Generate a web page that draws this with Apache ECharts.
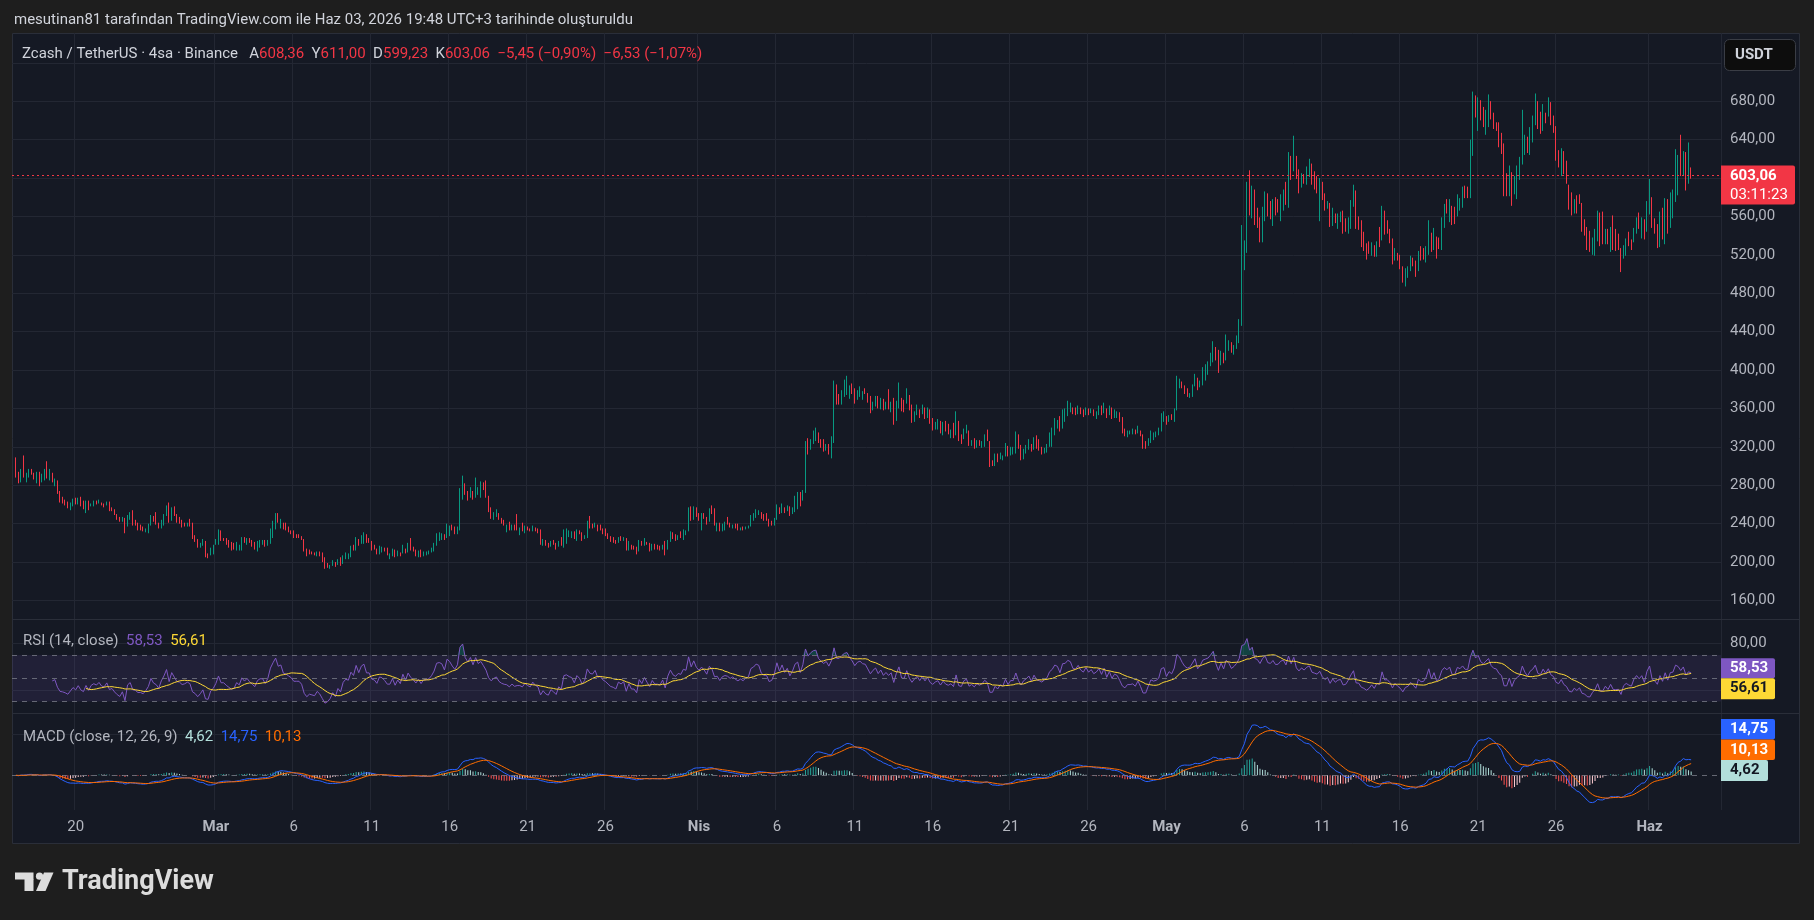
<!DOCTYPE html>
<html><head><meta charset="utf-8">
<script src="https://cdn.jsdelivr.net/npm/echarts@6/dist/echarts.min.js"></script>
<style>html,body{margin:0;padding:0;background:#1e1e1e;}#c{width:1814px;height:920px;}</style>
</head><body><div id="c"></div>
<script>
// ---- time axis (4h candles, UTC+3 clock) ----
const firstSlot = Date.UTC(2026, 1, 16, 3);   // first (empty) slot: Feb 16 03:00
const leadSlots = 1;                            // partially hidden slot at the left edge
const futureSlots = 11;                         // empty right margin
const xTickDates = ['02-20','03-01','03-06','03-11','03-16','03-21','03-26','04-01','04-06','04-11','04-16','04-21','04-26','05-01','05-06','05-11','05-16','05-21','05-26','06-01'];
const xTickTexts = ['20','Mar','6','11','16','21','26','Nis','6','11','16','21','26','May','6','11','16','21','26','Haz'];

// ---- price axis ----
const priceTicks  = [160,200,240,280,320,360,400,440,480,520,560,600,640,680,720];
const priceLabels = [160,200,240,280,320,360,400,440,480,520,560,600,640,680];
const rsiTicks = [40, 80];
const rsiLabels = [80];
const macdTicks = [40];

// ---- candles [open, close, low, high], Feb 16 07:00 -> Jun 03 19:00 ----
const candlesFeb16 = [
[307,289,288,309],[293,283,282,294],[284,296,283,297],[309,289,288,311],[284,292,283,293],[289,296,288,297],[296,292,291,297],[292,287,286,293],[283,293,282,294],[293,280,279,294],
[284,291,283,292],[286,296,285,297],[303,288,287,305],[287,295,285,297],[292,284,283,293],[280,286,279,287],[284,272,271,285],[273,263,262,274],[267,262,261,268],[264,260,259,265],
[262,257,256,263],[255,261,254,262],[259,265,258,266],[266,261,260,267],[261,266,260,267],[267,259,258,268],[263,256,255,264],[252,263,251,264],[263,255,254,264],[258,261,258,261],
[258,263,258,264],[263,261,260,264],[261,264,261,265],[261,259,259,262],[260,258,257,261],[259,262,259,263],[262,253,253,263],[256,254,253,257],[254,249,249,255],[250,245,244,250],
[246,242,242,247],[242,246,242,247],[245,231,230,246],[238,248,237,249],[245,251,244,252],[253,239,238,254],[243,238,238,244],[240,234,233,241],[238,234,233,239],[236,232,232,237],
[231,235,231,235],[231,239,230,240],[239,248,238,249],[247,242,242,248],[251,240,239,252],[240,235,235,241],[236,243,235,244],[239,249,238,250],[249,258,248,259],[261,242,241,262],
[244,256,243,257],[257,249,248,258],[249,242,241,250],[246,241,240,247],[243,237,236,244],[241,238,237,241],[237,240,237,241],[244,238,237,245],[240,225,224,241],[227,222,221,228],
[223,216,215,224],[216,219,215,220],[218,223,217,224],[221,206,205,222],[208,205,204,209],[208,214,207,215],[209,217,208,218],[218,223,218,224],[219,233,218,234],[232,223,222,233],
[225,223,222,225],[224,219,218,225],[222,216,215,223],[220,213,212,221],[219,214,213,220],[213,220,212,221],[213,217,212,218],[213,225,212,226],[225,221,220,226],[219,224,218,225],
[224,220,220,225],[222,217,216,223],[220,214,213,221],[212,220,211,222],[216,222,215,223],[218,222,218,223],[222,217,216,223],[217,222,217,223],[220,234,219,235],[226,242,225,243],
[235,250,234,251],[250,242,241,251],[236,244,235,245],[240,235,234,241],[240,234,233,241],[236,232,231,237],[233,230,229,233],[232,226,225,233],[229,226,225,229],[228,226,225,229],
[226,223,223,227],[223,212,211,224],[213,207,206,214],[212,209,208,213],[210,208,208,211],[210,207,207,210],[207,210,206,211],[210,207,206,211],[209,201,200,210],[204,194,193,205],
[198,195,194,199],[194,197,193,197],[197,201,196,202],[199,196,195,200],[197,202,197,203],[204,198,196,205],[199,206,198,207],[203,209,203,210],[204,208,203,209],[206,216,205,217],
[217,213,212,218]];
const candlesMar10 = [
[213,225,212,226],[223,218,217,224],[219,227,219,228],[220,230,219,231],[228,221,220,229],[225,221,220,225],[221,214,212,222],[217,213,213,218],[214,209,208,214],[210,216,208,217],
[210,215,210,216],[215,212,211,215],[214,208,207,215],[204,208,203,209],[207,213,206,214],[212,206,205,213],[207,211,206,212],[209,207,206,210],[210,217,209,218],[214,210,209,214],
[211,219,210,220],[224,214,212,225],[215,211,211,216],[212,207,206,213],[206,211,205,212],[212,206,205,213],[206,210,206,211],[207,210,207,211],[208,211,208,212],[210,214,210,215],
[212,219,211,220],[218,229,217,230],[223,230,222,231],[224,229,223,230],[228,224,223,229],[226,239,225,240],[228,237,227,238],[238,233,233,239],[236,230,229,237],[230,236,229,237],
[234,276,233,277],[276,288,265,290],[281,271,270,282],[273,265,264,274],[268,277,267,278],[273,266,265,274],[268,287,267,288],[272,277,270,278],[269,283,267,284],[283,276,275,283],
[284,268,267,285],[268,253,252,269],[256,246,245,257],[245,251,244,252],[248,254,247,255],[250,245,244,251],[246,241,240,246],[244,239,238,244],[232,238,231,239],[241,234,233,242],
[234,238,233,239],[238,234,233,239],[249,235,233,250],[229,235,228,236],[240,233,232,241],[231,237,230,238],[237,234,233,237],[235,232,232,235],[233,237,232,238],[236,233,232,236],
[234,231,230,235],[233,219,218,234],[218,223,217,224],[222,218,217,223],[220,216,215,220],[216,221,216,222],[222,218,218,223],[220,214,213,220],[216,221,216,222],[225,218,217,226],
[216,233,215,234],[220,234,219,235],[227,232,226,233],[226,231,225,232],[231,225,224,232],[223,233,222,234],[232,230,229,233],[230,223,222,231],[224,227,224,228],[226,242,225,243],
[247,237,235,248],[240,236,235,240],[237,241,236,241],[238,233,232,239],[238,234,233,239],[234,230,229,235],[234,228,227,235],[229,225,224,230],[226,222,221,227],[225,221,220,226],
[222,219,219,223],[220,225,220,226],[226,223,222,227],[222,225,222,226],[224,214,212,225],[213,221,212,222],[217,214,213,218],[217,214,213,217],[216,209,208,216],[212,222,211,223],
[221,217,217,222],[217,224,217,225],[220,218,218,221],[219,212,211,220],[213,219,212,219],[218,214,213,219],[218,214,213,218],[217,213,212,217],[214,218,213,218],[221,208,207,222],
[214,222,213,223],[222,231,221,232],[230,225,224,231],[228,223,222,229],[223,227,223,228],[231,226,225,232],[224,233,223,234],[229,232,228,233],[233,256,232,257],[257,244,243,258],
[245,257,244,258]];
const candlesApr01 = [
[256,248,247,257],[250,244,243,251],[234,250,233,251],[250,246,245,251],[246,240,239,247],[243,255,242,256],[258,251,250,259],[255,239,238,256],[233,240,232,241],[240,233,232,241],
[233,239,232,240],[234,241,233,242],[246,240,239,247],[240,237,236,241],[236,239,235,239],[239,236,235,240],[240,234,233,240],[234,236,233,236],[236,234,233,237],[234,237,234,237],
[236,238,235,238],[237,248,237,249],[244,250,243,251],[247,254,246,255],[250,253,249,254],[251,246,245,252],[249,244,243,250],[250,244,243,251],[244,238,237,245],[243,239,238,243],
[239,245,238,246],[245,259,244,260],[256,251,250,257],[252,260,251,261],[256,252,251,257],[254,258,253,259],[257,249,248,258],[251,256,250,257],[253,268,252,269],[256,272,255,273],
[272,259,258,273],[265,274,264,275],[273,325,272,326],[328,313,312,329],[318,327,317,328],[324,336,323,337],[327,339,326,340],[334,325,324,335],[327,320,319,328],[327,316,315,328],
[317,322,316,323],[322,314,312,323],[310,330,308,331],[330,388,324,389],[384,365,364,385],[374,365,364,375],[365,378,364,379],[373,389,372,390],[375,393,374,394],[371,383,370,384],
[385,376,375,386],[380,366,365,381],[369,378,369,379],[373,382,372,383],[370,377,369,378],[380,376,375,381],[375,367,366,376],[372,357,355,373],[359,366,358,367],[363,372,362,373],
[372,361,360,373],[360,370,359,371],[369,359,358,370],[360,366,359,367],[379,360,359,380],[357,366,356,367],[369,345,343,371],[348,367,347,368],[362,386,360,387],[369,358,357,371],
[368,357,356,369],[366,380,365,381],[373,359,358,374],[363,346,345,364],[347,356,346,357],[354,363,353,364],[358,351,350,359],[355,363,354,364],[360,350,349,361],[351,360,350,361],
[358,345,344,359],[349,339,337,350],[339,345,338,346],[339,348,338,349],[346,336,334,347],[333,345,332,346],[346,337,336,347],[343,334,333,344],[330,337,329,338],[344,330,329,345],
[333,356,332,357],[346,327,326,347],[332,324,323,333],[329,338,328,339],[335,342,334,343],[336,322,321,337],[322,326,321,327],[328,319,318,329],[320,326,319,327],[326,322,321,327],
[320,325,319,326],[321,332,320,333],[337,327,326,338],[325,301,299,326],[305,301,300,306],[301,312,300,313],[312,305,304,313],[308,313,307,314],[307,310,306,311],[311,323,310,324],
[320,311,310,321],[312,319,311,320],[313,319,312,320],[314,335,313,336],[332,319,318,333],[321,308,306,322],[308,317,307,318],[314,321,313,322],[318,327,317,328],[322,316,315,323]];
const candlesApr23 = [
[318,329,317,330],[331,319,318,332],[327,317,316,328],[319,314,312,320],[313,318,313,319],[314,322,314,323],[321,334,320,335],[321,339,320,340],[333,349,332,350],[340,347,339,348],
[351,337,336,352],[340,358,339,359],[347,359,346,360],[353,367,352,368],[357,365,356,366],[360,355,354,361],[360,354,353,361],[355,362,354,363],[361,355,354,361],[358,352,351,359],
[354,361,353,361],[359,354,353,360],[356,359,355,360],[358,353,352,359],[350,356,349,357],[354,362,353,363],[362,354,353,363],[356,365,355,366],[359,351,350,360],[354,362,353,363],
[360,350,349,361],[351,358,350,359],[351,356,350,357],[355,347,346,356],[350,336,334,351],[338,332,331,339],[331,337,330,337],[334,337,333,337],[334,338,333,339],[338,334,333,338],
[335,341,334,342],[337,332,331,337],[332,319,318,333],[325,319,318,326],[322,328,321,329],[325,337,324,337],[328,335,327,335],[331,336,330,336],[333,339,332,340],[337,354,336,355],
[347,356,346,357],[351,344,343,352],[347,352,346,353],[353,349,348,354],[347,359,346,360],[359,393,358,394],[382,390,381,391],[387,382,381,388],[383,376,375,384],[380,373,372,381],
[372,375,371,376],[373,384,372,385],[384,395,383,396],[391,380,379,392],[383,388,382,389],[385,402,384,403],[390,405,389,406],[396,408,395,409],[405,417,404,418],[409,429,408,430],
[423,411,410,424],[420,399,397,421],[406,419,405,420],[417,408,407,418],[411,436,410,437],[421,430,420,431],[428,419,418,429],[417,425,416,426],[423,435,422,436],[429,452,428,453],
[447,525,446,551],[508,533,504,535],[523,595,522,596],[605,563,561,608],[560,590,558,592],[587,553,551,588],[567,549,548,569],[558,535,533,559],[535,568,533,570],[556,585,555,586],
[583,562,560,584],[575,559,557,576],[551,577,550,578],[579,563,561,580],[577,565,564,578],[556,582,555,583],[567,587,566,588],[594,573,572,596],[571,625,569,627],[621,599,598,623],
[608,642,607,644],[621,600,599,623],[608,586,584,609],[591,604,590,605],[603,595,594,604],[594,611,593,612],[602,619,601,620],[613,594,593,615],[606,590,588,607],[601,586,584,602],
[557,599,555,600],[595,578,577,596],[583,567,566,584],[569,575,568,576],[573,551,549,574],[551,568,550,569],[562,554,553,563],[548,562,547,563],[555,564,554,565],[565,543,542,566],
[557,545,544,558],[543,558,542,559],[548,576,547,577],[571,592,570,593],[585,548,547,587],[559,547,546,560],[555,530,528,556],[543,525,524,544],[531,517,515,532],[533,522,521,534],
[520,532,519,533]];
const candlesMay15 = [
[529,519,518,530],[519,533,518,534],[548,529,528,549],[537,570,535,571],[564,542,541,566],[555,543,542,556],[546,533,532,547],[535,512,510,537],[515,526,514,527],[521,515,514,522],
[519,507,505,520],[507,492,491,508],[488,504,487,506],[497,507,496,508],[504,518,503,519],[516,509,508,517],[512,498,497,514],[504,523,503,524],[528,515,514,529],[526,516,515,527],
[514,528,512,529],[521,555,520,556],[541,524,523,543],[526,547,525,548],[537,517,516,539],[537,527,526,538],[526,558,525,559],[549,572,548,573],[577,565,563,578],[555,577,554,578],
[570,552,551,571],[569,553,552,570],[561,582,560,583],[567,578,566,579],[570,590,569,591],[590,580,579,592],[590,580,579,591],[580,638,579,640],[624,689,623,690],[685,664,663,686],
[650,683,649,684],[680,661,660,681],[673,654,653,674],[646,670,645,671],[654,686,653,687],[679,662,661,680],[666,652,651,668],[657,650,649,658],[657,634,632,658],[646,626,625,647],
[634,583,581,636],[604,583,581,605],[583,612,581,613],[605,573,571,606],[584,601,583,602],[579,612,578,613],[599,621,598,622],[616,670,614,671],[625,644,624,645],[642,627,626,643],
[625,652,624,653],[638,663,637,665],[656,687,655,688],[679,652,651,680],[668,647,646,669],[650,676,649,677],[667,658,657,668],[665,683,664,684],[678,656,655,679],[664,648,647,665],
[653,619,618,654],[628,612,611,629],[603,630,602,631],[627,605,604,628],[617,595,594,618],[592,568,567,593],[584,563,561,585],[564,577,563,578],[581,565,563,582],[582,574,573,583],
[573,545,544,574],[556,541,540,557],[548,526,525,549],[544,524,523,545],[521,537,520,538],[520,546,519,547],[535,564,534,566],[562,531,529,564],[563,532,531,565],[532,546,531,547],
[546,532,531,547],[524,548,523,549],[559,526,525,561],[546,525,524,547],[541,526,525,542],[526,504,502,527],[516,529,516,530],[520,536,519,537],[543,530,529,544],[535,526,525,536],
[534,547,533,548],[543,558,542,559],[562,548,547,564],[538,558,537,559],[556,537,536,557],[545,575,544,576],[563,598,562,599],[579,549,548,580],[557,543,542,558],[551,528,527,552],
[529,563,528,565],[568,538,536,569],[533,578,531,579],[577,543,542,578],[549,583,548,585],[559,586,558,588],[576,629,575,630],[584,623,582,624],[623,606,602,645],[606,627,602,628],
[626,590,587,627],[596,608.51,594,637],[608.36,603.06,599.23,611.00]];

// ---- texts shown in the reference ----
const headerText = 'mesutinan81 tarafından TradingView.com ile Haz 03, 2026 19:48 UTC+3 tarihinde oluşturuldu';
const symbolText = 'Zcash / TetherUS · 4sa · Binance';
const changeTexts = ['−5,45 (−0,90%)', '−6,53 (−1,07%)'];
const countdownText = '03:11:23';
const rsiShown = [58.53, 56.61];          // RSI, RSI-MA  (legend / badges)
const macdShown = [4.62, 14.75, 10.13];   // histogram, MACD, signal

// =====================================================================
const candles = candlesFeb16.concat(candlesMar10, candlesApr01, candlesApr23, candlesMay15);
const nSlots = leadSlots + candles.length + futureSlots;
const pad2 = n => (n < 10 ? '0' : '') + n;
const categories = [];
for (let j = 0; j < nSlots; j++) {
  const d = new Date(firstSlot + j * 4 * 3600 * 1000);
  categories.push(pad2(d.getUTCMonth() + 1) + '-' + pad2(d.getUTCDate()) + ' ' + pad2(d.getUTCHours()));
}
const tickMap = new Map();
xTickDates.forEach((d, i) => tickMap.set(d + ' 03', xTickTexts[i]));

const closes = candles.map(c => c[1]);
const last = candles[candles.length - 1];
const fmt = v => v.toFixed(2).replace('.', ',');

// indicators derived from the closes (RSI 14 + SMA 14, MACD 12/26/9)
function rsiOf(cl, n) {
  const out = cl.map(() => null); let ag = 0, al = 0;
  for (let i = 1; i < cl.length; i++) {
    const ch = cl[i] - cl[i - 1], g = Math.max(ch, 0), l = Math.max(-ch, 0);
    if (i <= n) { ag += g / n; al += l / n; if (i === n) out[i] = 100 - 100 / (1 + ag / al); }
    else { ag = (ag * (n - 1) + g) / n; al = (al * (n - 1) + l) / n; out[i] = al === 0 ? 100 : 100 - 100 / (1 + ag / al); }
  }
  return out;
}
function smaOf(arr, n) {
  return arr.map((v, i) => {
    if (i < n - 1) return null; let s = 0;
    for (let k = i - n + 1; k <= i; k++) { if (arr[k] == null) return null; s += arr[k]; }
    return s / n;
  });
}
function emaOf(arr, n) {
  const a = 2 / (n + 1); const out = []; let e = arr[0];
  arr.forEach((v, i) => { e = i === 0 ? v : a * v + (1 - a) * e; out.push(e); });
  return out;
}
const rsi = rsiOf(closes, 14);
const rsiMa = smaOf(rsi, 14);
const ema12 = emaOf(closes, 12), ema26 = emaOf(closes, 26);
const macd = closes.map((_, i) => ema12[i] - ema26[i]);
const signal = emaOf(macd, 9);
const hist = macd.map((v, i) => v - signal[i]);
const histColor = hist.map((h, i) => {
  const p = i > 0 ? hist[i - 1] : h;
  return h >= 0 ? (p < h ? '#26A69A' : '#B2DFDB') : (p < h ? '#FFCDD2' : '#FF5252');
});

const lead = new Array(leadSlots).fill(null), tail = new Array(futureSlots).fill(null);
const padS = a => lead.concat(a, tail);
const emptyC = ['-', '-', '-', '-'];
const candleData = new Array(leadSlots).fill(emptyC).concat(candles, new Array(futureSlots).fill(emptyC));
const rsiHi = rsi.map(v => v == null ? null : Math.max(v, 70));
const rsiLo = rsi.map(v => v == null ? null : Math.min(v, 30));

const UI = "Roboto, 'Noto Sans', sans-serif";
const FS = 15;
const AX = '#b2b5be', GRID = '#232733', BG = '#151924';
const gridL = 12, gridR = 93;

function xAx(gi, showLabel) {
  return {
    type: 'category', gridIndex: gi, data: categories, boundaryGap: true,
    axisLine: { show: false }, axisTick: { show: false },
    axisLabel: {
      show: showLabel, interval: (i, v) => tickMap.has(v), margin: 10,
      color: AX, fontSize: FS, fontFamily: UI,
      formatter: v => { const t = tickMap.get(v) || ''; return /^[A-Za-z]/.test(t) ? '{m|' + t + '}' : t; },
      rich: { m: { fontWeight: 'bold', color: AX, fontSize: FS, fontFamily: UI } }
    },
    splitLine: { show: true, interval: (i, v) => tickMap.has(v), lineStyle: { color: GRID, width: 1 } }
  };
}

const option = {
  animation: false,
  backgroundColor: '#1e1e1e',
  grid: [
    { left: gridL, right: gridR, top: 33, height: 586 },
    { left: gridL, right: gridR, top: 620, height: 93 },
    { left: gridL, right: gridR, top: 714, height: 96 }
  ],
  xAxis: [xAx(0, false), xAx(1, false), xAx(2, true)],
  yAxis: [
    { type: 'value', gridIndex: 0, position: 'right', min: 140.7, max: 751, scale: true,
      axisLine: { show: false }, axisTick: { show: false, customValues: priceTicks },
      axisLabel: { customValues: priceLabels, color: AX, fontSize: FS, fontFamily: UI, margin: 9, formatter: v => fmt(v) },
      splitLine: { lineStyle: { color: GRID, width: 1 } } },
    { type: 'value', gridIndex: 1, position: 'right', min: 20, max: 100,
      axisLine: { show: false }, axisTick: { show: false, customValues: rsiTicks },
      axisLabel: { customValues: rsiLabels, color: AX, fontSize: FS, fontFamily: UI, margin: 9, formatter: v => fmt(v) },
      splitLine: { lineStyle: { color: GRID, width: 1 } } },
    { type: 'value', gridIndex: 2, position: 'right', min: -33.7, max: 59.5,
      axisLine: { show: false }, axisTick: { show: false, customValues: macdTicks },
      axisLabel: { show: false, customValues: macdTicks },
      splitLine: { lineStyle: { color: GRID, width: 1 } } }
  ],
  series: [
    { type: 'candlestick', xAxisIndex: 0, yAxisIndex: 0, data: candleData, large: false, barWidth: 1,
      itemStyle: { color: '#089981', color0: '#F23645', borderColor: '#089981', borderColor0: '#F23645', borderWidth: 1 },
      markLine: { silent: true, symbol: 'none', label: { show: false },
        lineStyle: { color: '#F23645', type: [2, 3], width: 1, opacity: 1 }, data: [{ yAxis: last[1] }] } },
    { type: 'line', xAxisIndex: 1, yAxisIndex: 1, data: padS(rsiHi), showSymbol: false, silent: true,
      lineStyle: { width: 0 }, areaStyle: { origin: 70, color: 'rgba(8,153,129,0.45)' }, z: 1 },
    { type: 'line', xAxisIndex: 1, yAxisIndex: 1, data: padS(rsiLo), showSymbol: false, silent: true,
      lineStyle: { width: 0 }, areaStyle: { origin: 30, color: 'rgba(242,54,69,0.45)' }, z: 1 },
    { type: 'line', xAxisIndex: 1, yAxisIndex: 1, data: padS(rsi), showSymbol: false, silent: true,
      lineStyle: { color: '#7E57C2', width: 1 }, z: 3,
      markArea: { silent: true, itemStyle: { color: 'rgba(126,87,194,0.12)' }, data: [[{ yAxis: 30 }, { yAxis: 70 }]] },
      markLine: { silent: true, symbol: 'none', label: { show: false },
        lineStyle: { color: 'rgba(120,123,134,0.8)', type: [5, 5], width: 1 },
        data: [{ yAxis: 70 }, { yAxis: 50 }, { yAxis: 30 }] } },
    { type: 'line', xAxisIndex: 1, yAxisIndex: 1, data: padS(rsiMa), showSymbol: false, silent: true,
      lineStyle: { color: '#FDD835', width: 1 }, z: 4 },
    { type: 'bar', xAxisIndex: 2, yAxisIndex: 2, data: padS(hist), barWidth: 1, silent: true,
      itemStyle: { color: p => histColor[p.dataIndex - leadSlots] || '#26A69A' },
      markLine: { silent: true, symbol: 'none', label: { show: false },
        lineStyle: { color: 'rgba(120,123,134,0.8)', type: [5, 5], width: 1 }, data: [{ yAxis: 0 }] } },
    { type: 'line', xAxisIndex: 2, yAxisIndex: 2, data: padS(macd), showSymbol: false, silent: true,
      lineStyle: { color: '#2962FF', width: 1 }, z: 4 },
    { type: 'line', xAxisIndex: 2, yAxisIndex: 2, data: padS(signal), showSymbol: false, silent: true,
      lineStyle: { color: '#FF6D00', width: 1 }, z: 5 }
  ],
  graphic: [
    { type: 'rect', z: -10, silent: true, shape: { x: 12.5, y: 33.5, width: 1787, height: 810 },
      style: { fill: BG, stroke: '#2a2e39', lineWidth: 1 } },
    { type: 'line', z: 6, silent: true, shape: { x1: 13, y1: 619.5, x2: 1799, y2: 619.5 }, style: { stroke: '#2a2e39', lineWidth: 1 } },
    { type: 'line', z: 6, silent: true, shape: { x1: 13, y1: 713.5, x2: 1799, y2: 713.5 }, style: { stroke: '#2a2e39', lineWidth: 1 } },
    { type: 'text', z: 10, x: 14, y: 20, style: { text: headerText, fill: '#d1d4dc', fontSize: FS, fontFamily: UI, verticalAlign: 'middle' } },
    { type: 'text', z: 10, x: 22, y: 54.5, style: {
        text: '{s|' + symbolText + '}   {k|A}{v|' + fmt(last[0]) + '}  {k|Y}{v|' + fmt(last[3]) + '}  {k|D}{v|' + fmt(last[2]) + '}  {k|K}{v|' + fmt(last[1]) + '}  {v|' + changeTexts[0] + '}  {v|' + changeTexts[1] + '}',
        verticalAlign: 'middle', fontSize: FS, fontFamily: UI,
        rich: { s: { fill: '#d1d4dc', fontSize: FS, fontFamily: UI }, k: { fill: '#d1d4dc', fontSize: FS, fontFamily: UI }, v: { fill: '#F23645', fontSize: FS, fontFamily: UI } } } },
    { type: 'text', z: 10, x: 23, y: 641.5, style: {
        text: '{t|RSI (14, close)}  {p|' + fmt(rsiShown[0]) + '}  {y|' + fmt(rsiShown[1]) + '}',
        verticalAlign: 'middle', fontSize: FS, fontFamily: UI,
        rich: { t: { fill: AX, fontSize: FS, fontFamily: UI }, p: { fill: '#7E57C2', fontSize: FS, fontFamily: UI }, y: { fill: '#FDD835', fontSize: FS, fontFamily: UI } } } },
    { type: 'text', z: 10, x: 23, y: 737.5, style: {
        text: '{t|MACD (close, 12, 26, 9)}  {h|' + fmt(macdShown[0]) + '}  {m|' + fmt(macdShown[1]) + '}  {s|' + fmt(macdShown[2]) + '}',
        verticalAlign: 'middle', fontSize: FS, fontFamily: UI,
        rich: { t: { fill: AX, fontSize: FS, fontFamily: UI }, h: { fill: '#B2DFDB', fontSize: FS, fontFamily: UI }, m: { fill: '#2962FF', fontSize: FS, fontFamily: UI }, s: { fill: '#FF6D00', fontSize: FS, fontFamily: UI } } } },
    // USDT button
    { type: 'rect', z: 10, silent: true, shape: { x: 1724.5, y: 39.5, width: 71, height: 31, r: 5 }, style: { fill: '#0d0d0d', stroke: '#3a3d45', lineWidth: 1 } },
    { type: 'text', z: 11, x: 1735, y: 55.5, style: { text: 'USDT', fill: '#d1d4dc', fontSize: FS, fontWeight: 'bold', fontFamily: UI, verticalAlign: 'middle' } },
    // TradingView logo
    { type: 'rect', z: 10, silent: true, shape: { x: 15, y: 872.5, width: 18.5, height: 7 }, style: { fill: '#dcdcdc' } },
    { type: 'rect', z: 10, silent: true, shape: { x: 24.5, y: 879, width: 9, height: 12 }, style: { fill: '#dcdcdc' } },
    { type: 'circle', z: 10, silent: true, shape: { cx: 39.5, cy: 876.2, r: 3.6 }, style: { fill: '#dcdcdc' } },
    { type: 'polygon', z: 10, silent: true, shape: { points: [[44, 872.5], [53.5, 872.5], [45.5, 891], [36, 891]] }, style: { fill: '#dcdcdc' } },
    { type: 'text', z: 10, x: 62, y: 882, style: { text: 'TradingView', fill: '#dcdcdc', fontSize: 27, fontWeight: 'bold', fontFamily: UI, verticalAlign: 'middle' } }
  ]
};

const chart = echarts.init(document.getElementById('c'), null, { renderer: 'canvas', width: 1814, height: 920 });
chart.setOption(option);

// value badges on the right scale, positioned through the library's axes
const bx = 1721;
function badge(id, y, h, w, fill, lines, txtFill) {
  const els = [{ id: id + 'r', type: 'rect', z: 20, silent: true, shape: { x: bx, y: y, width: w, height: h, r: [0, 2, 2, 0] }, style: { fill: fill } }];
  lines.forEach((t, i) => els.push({ id: id + 't' + i, type: 'text', z: 21, silent: true, x: bx + 9, y: y + 10.5 + i * 19,
    style: { text: t, fill: txtFill, fontSize: FS, fontFamily: UI, fontWeight: i === 0 ? 'bold' : 'normal', verticalAlign: 'middle' } }));
  return els;
}
const yPrice = chart.convertToPixel({ yAxisIndex: 0 }, last[1]);
const yR1 = chart.convertToPixel({ yAxisIndex: 1 }, rsiShown[0]);
const yR2 = Math.max(chart.convertToPixel({ yAxisIndex: 1 }, rsiShown[1]) - 10, yR1 + 10);
const yH = chart.convertToPixel({ yAxisIndex: 2 }, macdShown[0]);
const yS = Math.min(chart.convertToPixel({ yAxisIndex: 2 }, macdShown[2]) - 10.5, yH - 10.5 - 20.5);
const yM = Math.min(chart.convertToPixel({ yAxisIndex: 2 }, macdShown[1]) - 10.5, yS - 20.5);
chart.setOption({ graphic: [].concat(
  badge('bp', yPrice - 9.5, 39, 74, '#F23645', [fmt(last[1]), countdownText], '#ffffff'),
  badge('br1', yR1 - 10, 20, 54, '#7E57C2', [fmt(rsiShown[0])], '#ffffff'),
  badge('br2', yR2, 21, 54, '#FDD835', [fmt(rsiShown[1])], '#131722'),
  badge('bm1', yM, 20.5, 54, '#2962FF', [fmt(macdShown[1])], '#ffffff'),
  badge('bm2', yS, 20.5, 54, '#FF6D00', [fmt(macdShown[2])], '#ffffff'),
  badge('bm3', yH - 10.5, 21, 47, '#B2DFDB', [fmt(macdShown[0])], '#131722')
) });
</script></body></html>
